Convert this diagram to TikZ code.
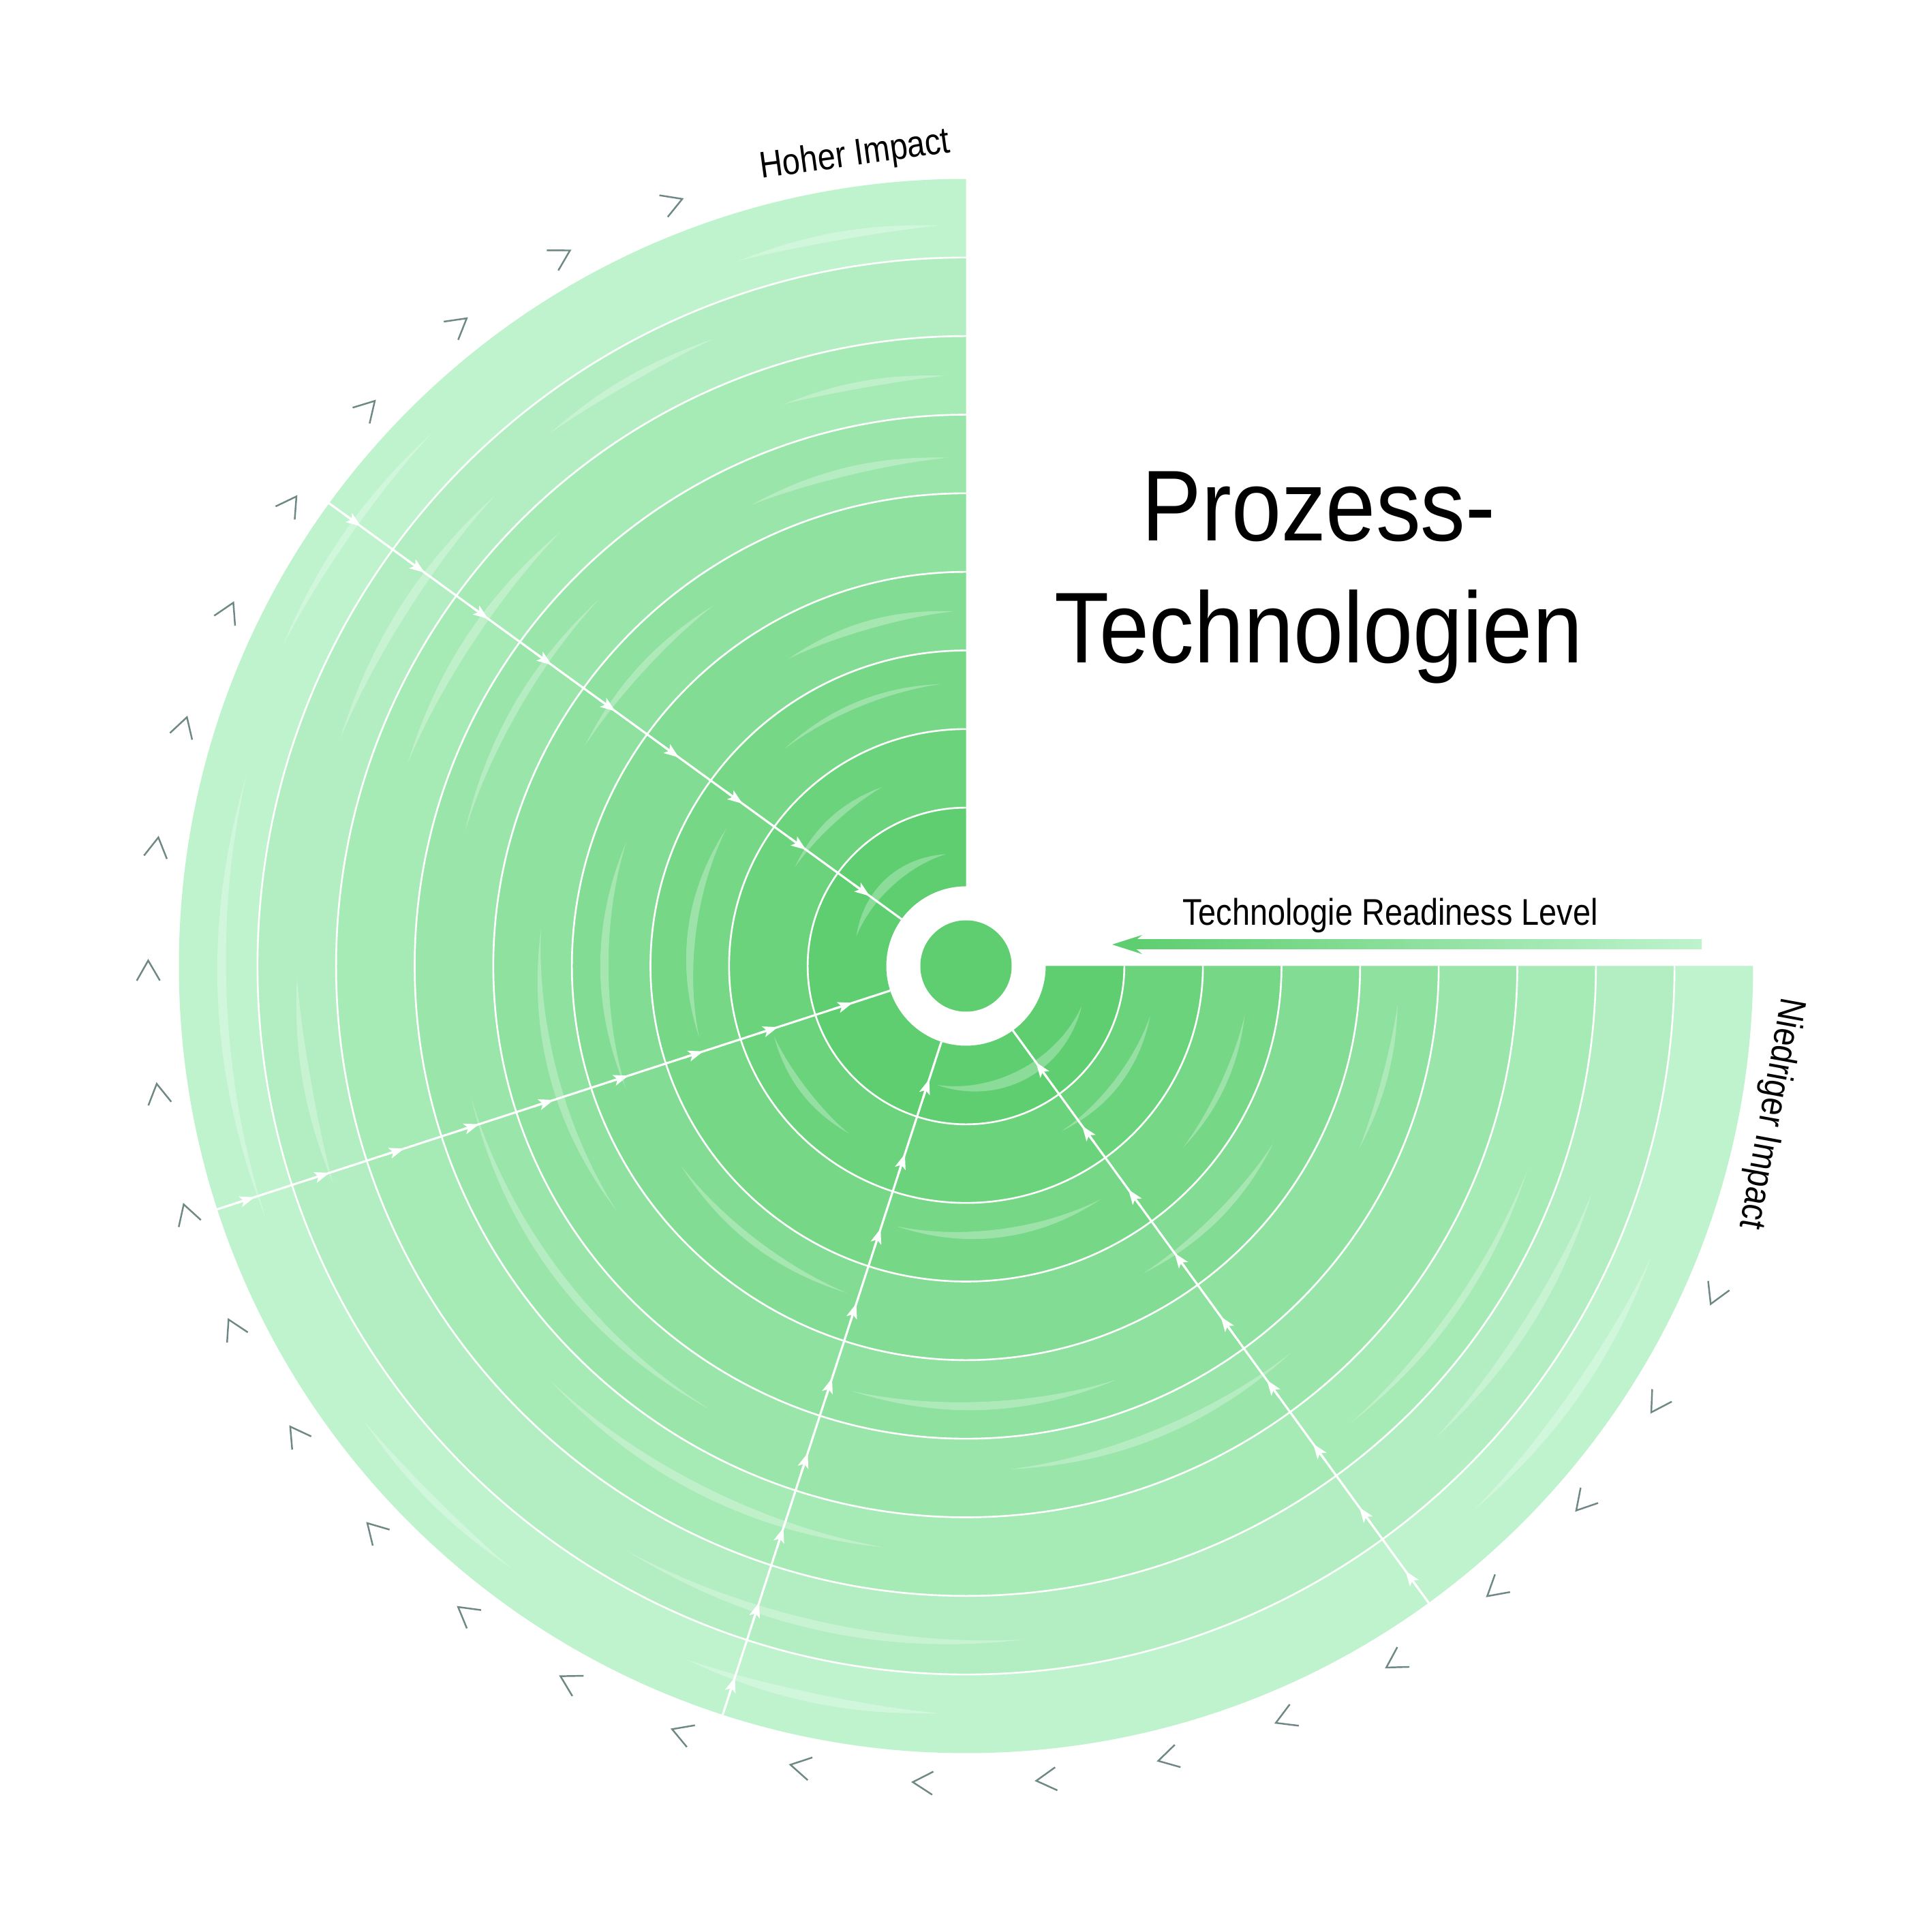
\documentclass[tikz,border=0pt]{standalone}
\usepackage{fontspec}
\setmainfont{Liberation Sans}[FakeStretch=0.86]
\newfontfamily\titlefont{Liberation Sans}[FakeStretch=0.89]
\usetikzlibrary{arrows.meta}
\definecolor{r1}{HTML}{5ECE70}
\definecolor{r2}{HTML}{6AD37C}
\definecolor{r3}{HTML}{76D787}
\definecolor{r4}{HTML}{82DC93}
\definecolor{r5}{HTML}{8EE19F}
\definecolor{r6}{HTML}{9AE5AA}
\definecolor{r7}{HTML}{A6EAB6}
\definecolor{r8}{HTML}{B2EEC1}
\definecolor{r9}{HTML}{BEF3CD}
\colorlet{s1}{r1!72!white}
\colorlet{s2}{r2!72!white}
\colorlet{s3}{r3!72!white}
\colorlet{s4}{r4!72!white}
\colorlet{s5}{r5!72!white}
\colorlet{s6}{r6!72!white}
\colorlet{s7}{r7!72!white}
\colorlet{s8}{r8!72!white}
\colorlet{s9}{r9!72!white}
\definecolor{chev}{HTML}{6E8886}
\tikzset{
  sep/.style={draw=white, line width=0.75pt},
  radial/.style={draw=white, line width=0.9pt},
  chevron/.style={draw=chev, line width=0.7pt},
  lbl/.style={inner sep=0pt, font=\fontsize{15.5}{18}\selectfont},
  ttl/.style={inner sep=0pt, font=\titlefont\fontsize{42}{50}\selectfont},
}
\begin{document}
\begin{tikzpicture}
\useasboundingbox (-14.175,-14.175) rectangle (14.175,14.175);
\fill[white] (-14.175,-14.175) rectangle (14.175,14.175);
% rings
\foreach \rk in {1,...,9} {
  \pgfmathsetmacro\ri{1.17+(\rk-1)*1.1533}
  \pgfmathsetmacro\ro{1.17+\rk*1.1533}
  \fill[r\rk] (90:\ri) arc[start angle=90, end angle=360, radius=\ri] -- (0:\ro) arc[start angle=360, end angle=90, radius=\ro] -- cycle;
}
% brush streaks
\foreach \rk/\sa/\sb/\sw/\so in {
  1/100/165/0.07/-0.08, 1/256/341/0.08/0.05,
  2/115/150/0.05/0, 2/200/235/0.05/0.1, 2/300/345/0.05/-0.1,
  3/95/130/0.04/0.1, 3/150/195/0.06/0, 3/255/300/0.06/-0.1, 3/320/350/0.04/0.1,
  4/92/120/0.06/0, 4/160/200/0.06/0.1, 4/215/250/0.05/-0.1, 4/300/330/0.05/0,
  5/125/150/0.05/0.1, 5/175/215/0.06/-0.1, 5/255/290/0.06/0.1, 5/335/355/0.04/0,
  6/92/115/0.06/-0.05, 6/135/165/0.05/0.1, 6/195/240/0.06/0, 6/275/310/0.06/-0.1,
  7/92/108/0.05/0, 7/133/160/0.065/0.05, 7/225/262/0.065/-0.05, 7/310/340/0.05/0.1,
  8/112/128/0.05/0.1, 8/135/160/0.065/-0.05, 8/181/199/0.06/0, 8/240/275/0.065/0.1, 8/315/340/0.065/-0.05,
  9/92/108/0.06/-0.1, 9/135/155/0.05/0.1, 9/165/200/0.065/-0.05, 9/217/233/0.05/0.1, 9/248/268/0.07/0, 9/313/337/0.07/-0.05} {
  \pgfmathsetmacro\rmid{1.17+(\rk-0.5)*1.1533+\so}
  \fill[s\rk] plot[domain=\sa:\sb, samples=50, variable=\t] (\t:{\rmid+\sw*sin(180*(\t-\sa)/(\sb-\sa))})
    -- plot[domain=\sb:\sa, samples=50, variable=\t] (\t:{\rmid-\sw*sin(180*(\t-\sa)/(\sb-\sa))}) -- cycle;
}
% ring separators
\foreach \rk in {1,...,8} {
  \pgfmathsetmacro\rr{1.17+\rk*1.1533}
  \draw[sep] (90:\rr) arc[start angle=90, end angle=360, radius=\rr];
}
% radial lines with arrows
\foreach \ang in {144,198,252,306} {
  \draw[radial] (\ang:1.17) -- (\ang:11.553);
  \foreach \rk in {1,...,9} {
    \pgfmathsetmacro\rmid{1.17+(\rk-0.5)*1.1533}
    \draw[radial, -{Stealth[length=0.22cm, width=0.16cm, inset=0.05cm]}] (\ang:{\rmid+0.3}) -- (\ang:\rmid);
  }
}
% centre
\fill[r1] (0,0) circle (0.67);
% chevrons
\foreach \ck in {0,...,26} {
  \pgfmathsetmacro\ca{111+8.665*\ck}
  \draw[chevron, shift={(\ca:12.0)}, rotate=\ca-90] (-0.147,0.17) -- (0.147,0) -- (-0.147,-0.17);
}
% labels
\node[lbl, rotate=7.8] (hoch) at (97.8:12.0) {Hoher Impact};
\node[lbl, rotate=-100.4] (nied) at (-10.4:12.0) {Niedriger Impact};
\node[lbl, anchor=base] (trl) at (6.225,0.6) {Technologie Readiness Level};
% TRL arrow
\shade[left color=r1, right color=r9] (2.49,0.245) rectangle (10.795,0.385);
\fill[r1] (2.145,0.315) -- (2.585,0.455) -- (2.50,0.385) -- (2.50,0.245) -- (2.585,0.175) -- cycle;
% title
\node[ttl, anchor=base] (t1) at (5.175,6.235) {Prozess-};
\node[ttl, anchor=base] (t2) at (5.175,4.445) {Technologien};
\end{tikzpicture}
\end{document}
